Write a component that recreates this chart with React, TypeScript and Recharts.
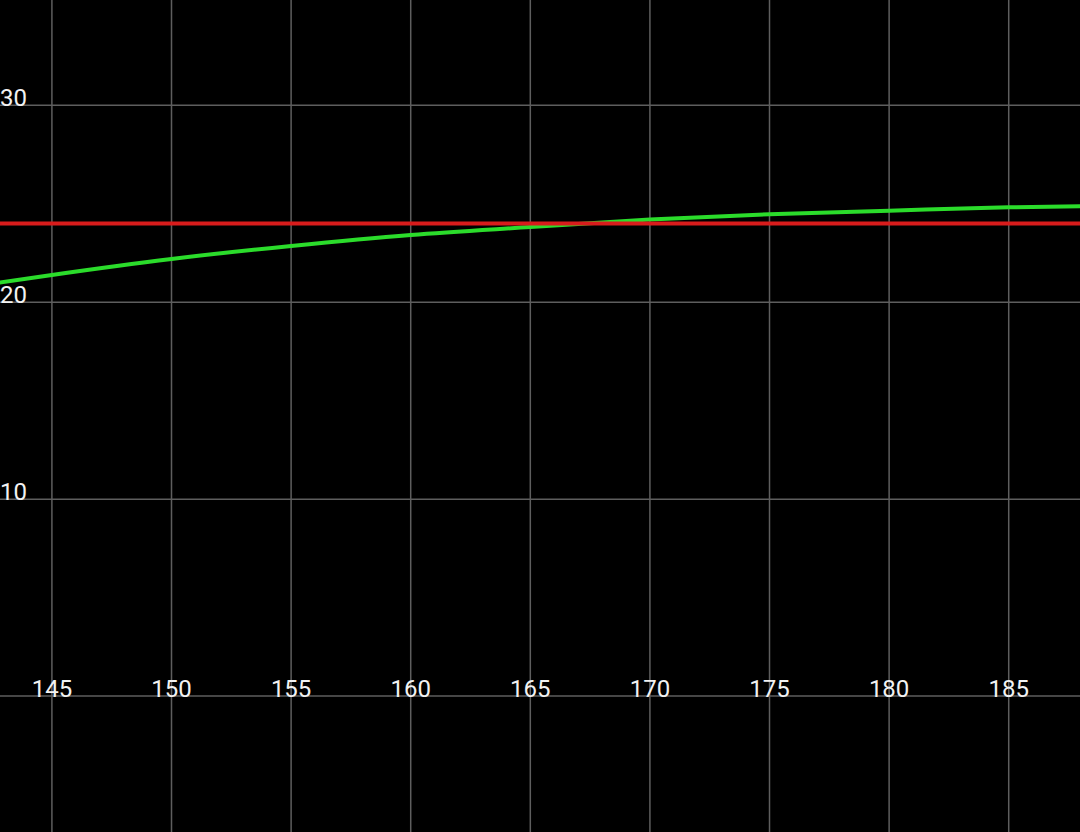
import { Line, LineChart, ReferenceLine, XAxis, YAxis } from "recharts";

const W = 1080;
const H = 832;

const X_DOMAIN: [number, number] = [142.83, 187.98];
const Y_DOMAIN: [number, number] = [-6.9, 35.35];

const X_TICKS = [145, 150, 155, 160, 165, 170, 175, 180, 185];
const Y_TICKS = [0, 10, 20, 30];

// green curve
const curveX = [142.8, 145, 150, 155, 160, 165, 170, 175, 180, 185, 188];
const curveY = [21.0, 21.39, 22.2, 22.86, 23.42, 23.82, 24.2, 24.47, 24.65, 24.82, 24.88];

// red flat line
const levelX = [142.8, 188];
const levelY = [24, 24];

const curveData = curveX.map((x, i) => ({ x, y: curveY[i] }));
const levelData = levelX.map((x, i) => ({ x, y: levelY[i] }));

const GRID = "#5e5e5e";
const LABEL_COLOR = "#f2f2f2";
const FONT = "Roboto, sans-serif";

// y pixel of value 0, where the x labels sit
const yZeroPx = (H * Y_DOMAIN[1]) / (Y_DOMAIN[1] - Y_DOMAIN[0]);

function XTick(props: any) {
  const { x, payload } = props;
  return (
    <text x={x} y={yZeroPx + 1} textAnchor="middle" fill={LABEL_COLOR} fontSize={24} fontFamily={FONT}>
      {payload.value}
    </text>
  );
}

function YTick(props: any) {
  const { y, payload } = props;
  if (payload.value === 0) return null;
  return (
    <text x={0} y={y + 1} textAnchor="start" fill={LABEL_COLOR} fontSize={24} fontFamily={FONT}>
      {payload.value}
    </text>
  );
}

export default function App() {
  return (
    <div style={{ position: "fixed", left: 0, top: 0, width: W, height: H, background: "#000" }}>
      <LineChart width={W} height={H} margin={{ top: 0, right: 0, bottom: 0, left: 0 }}>
        <XAxis
          type="number"
          dataKey="x"
          domain={X_DOMAIN}
          ticks={X_TICKS}
          allowDataOverflow
          interval={0}
          mirror
          height={30}
          axisLine={false}
          tickLine={false}
          tick={<XTick />}
        />
        <YAxis
          type="number"
          domain={Y_DOMAIN}
          ticks={Y_TICKS}
          allowDataOverflow
          interval={0}
          mirror
          width={60}
          axisLine={false}
          tickLine={false}
          tick={<YTick />}
        />
        {X_TICKS.map((t) => (
          <ReferenceLine key={"vx" + t} x={t} stroke={GRID} strokeWidth={1.5} />
        ))}
        {Y_TICKS.map((t) => (
          <ReferenceLine key={"hy" + t} y={t} stroke={GRID} strokeWidth={1.5} />
        ))}
        <Line
          data={curveData}
          dataKey="y"
          type="monotone"
          stroke="#2bdc2b"
          strokeWidth={4}
          dot={false}
          isAnimationActive={false}
        />
        <Line
          data={levelData}
          dataKey="y"
          type="linear"
          stroke="#d81c1c"
          strokeWidth={4}
          dot={false}
          isAnimationActive={false}
        />
      </LineChart>
    </div>
  );
}
